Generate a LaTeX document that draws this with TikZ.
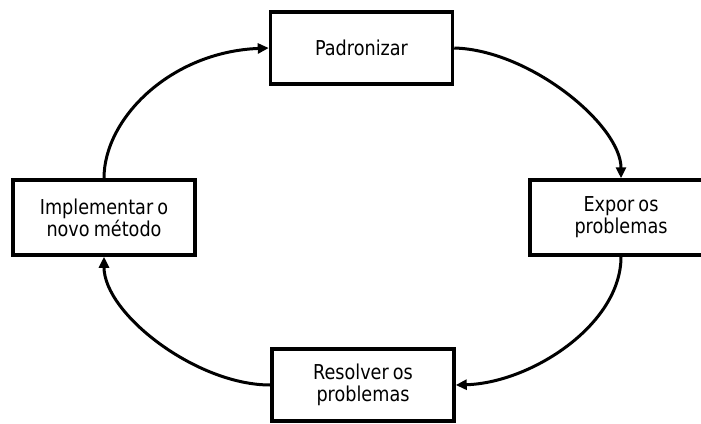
\documentclass[tikz,border=0pt]{standalone}
\usepackage{fontspec}
\setmainfont{DejaVu Sans}[FakeStretch=0.86]
\usetikzlibrary{arrows.meta}
\newcommand\stagefont{\fontsize{20.5pt}{22pt}\selectfont\spaceskip=0.2em\relax}

\begin{document}
\begin{tikzpicture}[x=1pt,y=-1pt,
  stage/.style={draw, line width=3.5pt, minimum width=182pt, minimum height=72pt,
                inner sep=0pt, align=center, font=\stagefont},
  flow/.style={line width=3pt, -{Triangle[length=11pt,width=10pt]}}]
\useasboundingbox (0,0) rectangle (701,423);

% the four stages of the cycle
\node[stage] (pad) at (361.5,48) {Padronizar};
\node[stage, minimum height=75pt] (expor) at (621,217.5) {Expor os\\problemas};
\node[stage] (res) at (363,385) {Resolver os\\problemas};
\node[stage, minimum height=75pt] (impl) at (104,217.5) {Implementar o\\novo método};

% curved arrows running clockwise
\draw[flow] (impl.north) .. controls +(0,-60) and +(-98,4) .. (pad.west);
\draw[flow] (pad.east) .. controls +(76,2) and +(0,-53) .. (expor.north);
\draw[flow] (expor.south) .. controls +(0,68) and +(75,-2) .. (res.east);
\draw[flow] (res.west) .. controls +(-74,0) and +(0,57) .. (impl.south);
\end{tikzpicture}
\end{document}
